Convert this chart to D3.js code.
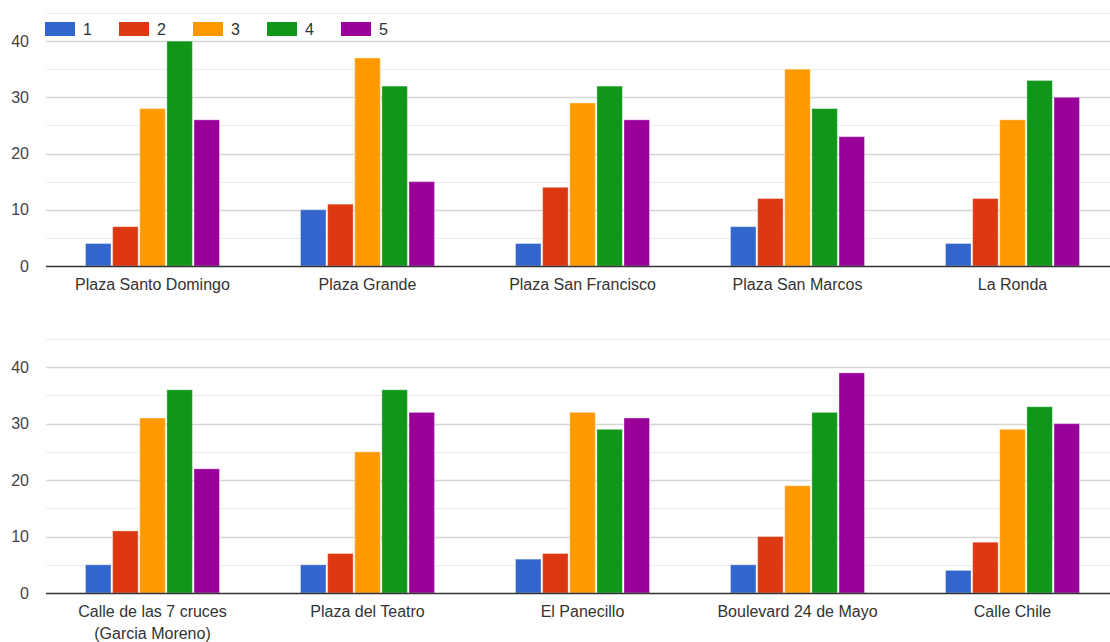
<!DOCTYPE html>
<meta charset="utf-8">
<head>
    <title>Calificación por lugar</title>
    <script src="https://cdn.jsdelivr.net/npm/d3@7"></script>
    <style>
        body { margin: 0; background: #fff; }
        text { font-family: Arial, "Liberation Sans", sans-serif; }
    </style>
</head>
<body>
<div id="chart"></div>
<script>
    // data
    var series = ["1", "2", "3", "4", "5"];
    var colors = ["#3366cc", "#dc3912", "#ff9900", "#109618", "#990099"];

    var placesTop = ["Plaza Santo Domingo", "Plaza Grande", "Plaza San Francisco", "Plaza San Marcos", "La Ronda"];
    var valuesTop = [
        [4, 7, 28, 40, 26],
        [10, 11, 37, 32, 15],
        [4, 14, 29, 32, 26],
        [7, 12, 35, 28, 23],
        [4, 12, 26, 33, 30]
    ];

    var placesBottom = ["Calle de las 7 cruces|(Garcia Moreno)", "Plaza del Teatro", "El Panecillo", "Boulevard 24 de Mayo", "Calle Chile"];
    var valuesBottom = [
        [5, 11, 31, 36, 22],
        [5, 7, 25, 36, 32],
        [6, 7, 32, 29, 31],
        [5, 10, 19, 32, 39],
        [4, 9, 29, 33, 30]
    ];

    var yTicks = [0, 10, 20, 30, 40];
    var yMinor = [5, 15, 25, 35, 45];

    var width = 1110, height = 642;
    var svg = d3.select("#chart").append("svg")
        .attr("width", width)
        .attr("height", height);

    function drawPanel(places, values, y0, y45, legend) {
        var g = svg.append("g");
        var gridLeft = 46;

        var y = d3.scaleLinear().domain([0, 45]).range([y0, y45]);
        var x0 = d3.scaleBand().domain(places).range([45, 1120]);
        var x1 = d3.scaleBand().domain(series)
            .range([0, 134]).paddingInner(0.06);
        var offset = (x0.bandwidth() - 134) / 2;

        // minor grid
        g.selectAll(".minor").data(yMinor).enter().append("line")
            .attr("x1", gridLeft).attr("x2", width)
            .attr("y1", d => Math.round(y(d)) + 0.5).attr("y2", d => Math.round(y(d)) + 0.5)
            .attr("stroke", "#ebebeb").attr("stroke-width", 1);

        // major grid
        g.selectAll(".major").data(yTicks.slice(1)).enter().append("line")
            .attr("x1", gridLeft).attr("x2", width)
            .attr("y1", d => Math.round(y(d)) + 0.5).attr("y2", d => Math.round(y(d)) + 0.5)
            .attr("stroke", "#d6d6d6").attr("stroke-width", 1.3);

        // tick labels
        g.selectAll(".tick").data(yTicks).enter().append("text")
            .attr("x", 29).attr("y", d => y(d) + 5.5)
            .attr("text-anchor", "end")
            .attr("font-size", 16).attr("fill", "#444")
            .text(d => d);

        // bars
        var groups = g.selectAll(".grp").data(places).enter().append("g")
            .attr("transform", d => "translate(" + (x0(d) + offset) + ",0)");
        groups.selectAll("rect")
            .data((d, i) => values[i].map((v, j) => ({ key: series[j], value: v, color: colors[j] })))
            .enter().append("rect")
            .attr("x", d => x1(d.key))
            .attr("width", x1.bandwidth())
            .attr("y", d => y(d.value))
            .attr("height", d => y0 - y(d.value))
            .attr("fill", d => d.color)
            .attr("stroke", "#fff").attr("stroke-opacity", 0.35).attr("stroke-width", 1);

        // baseline
        g.append("line")
            .attr("x1", gridLeft).attr("x2", width)
            .attr("y1", y0 + 0.5).attr("y2", y0 + 0.5)
            .attr("stroke", "#333").attr("stroke-width", 1.5);

        // category labels
        var labels = g.selectAll(".cat").data(places).enter().append("text")
            .attr("x", d => x0(d) + x0.bandwidth() / 2)
            .attr("y", y0 + 24)
            .attr("text-anchor", "middle")
            .attr("font-size", 16).attr("fill", "#333");
        labels.selectAll("tspan").data(d => d.split("|")).enter().append("tspan")
            .attr("x", function() { return d3.select(this.parentNode).attr("x"); })
            .attr("dy", (d, i) => i === 0 ? 0 : 22)
            .text(d => d);

        if (legend) {
            var lg = g.selectAll(".leg").data(series).enter().append("g")
                .attr("transform", (d, i) => "translate(" + (45 + i * 74) + ",22)");
            lg.append("rect")
                .attr("width", 30).attr("height", 14)
                .attr("fill", (d, i) => colors[i]);
            lg.append("text")
                .attr("x", 38).attr("y", 13)
                .attr("font-size", 16).attr("fill", "#333")
                .text(d => d);
        }
    }

    drawPanel(placesTop, valuesTop, 266, 13, true);
    drawPanel(placesBottom, valuesBottom, 593, 339, false);
</script>
</body>
</html>
